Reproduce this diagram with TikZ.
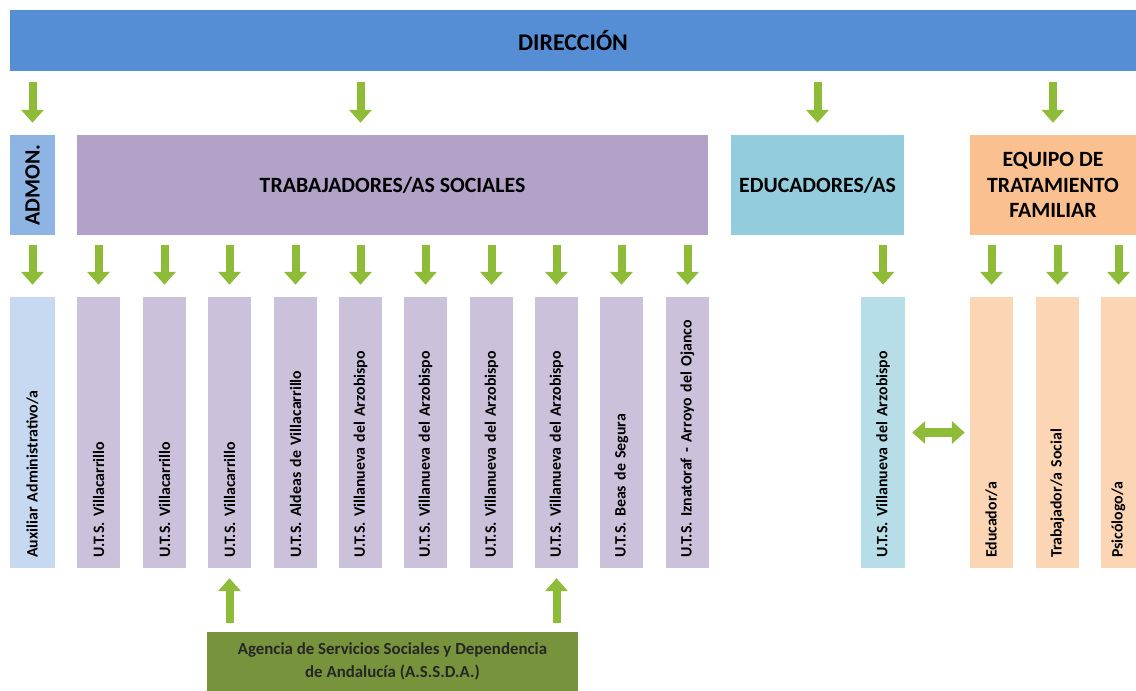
\documentclass[tikz,border=0pt]{standalone}
\usepackage{fontspec}
\setmainfont{Carlito}
\usetikzlibrary{arrows.meta}

\definecolor{azuldir}{HTML}{558ED5}
\definecolor{azuladm}{HTML}{8EB4E3}
\definecolor{azulaux}{HTML}{C6D9F1}
\definecolor{lila}{HTML}{B3A2C7}
\definecolor{lilaclaro}{HTML}{CCC1DA}
\definecolor{turquesa}{HTML}{93CDDD}
\definecolor{turquesaclaro}{HTML}{B7DEE8}
\definecolor{naranja}{HTML}{FAC090}
\definecolor{naranjaclaro}{HTML}{FCD5B5}
\definecolor{verdeagencia}{HTML}{77933C}
\definecolor{verdeflecha}{HTML}{8FBC38}

\begin{document}
\begin{tikzpicture}[
  box/.style={inner sep=0pt, align=center, text=black, font=\bfseries\fontsize{15.5}{18}\selectfont},
  col/.style={rotate=90, minimum width=6.775cm, minimum height=1.075cm, text width=6.275cm,
    inner xsep=0.25cm, inner ysep=0pt, align=left, text=black,
    font=\frenchspacing\bfseries\fontsize{11.3}{13}\selectfont},
  flecha/.style={line width=0.2cm, draw=verdeflecha, -{Triangle[width=0.55cm,length=0.32cm]},
    shorten <=0.275cm, shorten >=0.3cm},
  dobleflecha/.style={line width=0.22cm, draw=verdeflecha,
    {Triangle[width=0.55cm,length=0.32cm]}-{Triangle[width=0.55cm,length=0.32cm]},
    shorten <=0.175cm, shorten >=0.125cm}]

  \useasboundingbox (0,0) rectangle (28.4,-17.275);

  \node[box, fill=azuldir, minimum width=28.15cm, minimum height=1.525cm,
    font=\bfseries\fontsize{17}{20}\selectfont] (dir) at (14.325,-1.0125) {DIRECCIÓN};

  \node[box, fill=azuladm, rotate=90, minimum width=2.5cm, minimum height=1.125cm] (admon) at (0.8125,-4.625) {ADMON.};
  \node[box, fill=lila, minimum width=15.775cm, minimum height=2.5cm] (trab) at (9.8125,-4.625) {TRABAJADORES/AS SOCIALES};
  \node[box, fill=turquesa, minimum width=4.325cm, minimum height=2.5cm] (educ) at (20.4375,-4.625) {EDUCADORES/AS};
  \node[box, fill=naranja, minimum width=4.15cm, minimum height=2.5cm] (equipo) at (26.325,-4.625) {EQUIPO DE\\TRATAMIENTO\\FAMILIAR};

  \node[col, fill=azulaux, minimum height=1.125cm] (aux) at (0.8125,-10.8125) {Auxiliar Administrativo/a};
  \node[col, fill=lilaclaro] (u1) at (2.4625,-10.8125) {U.T.S. Villacarrillo};
  \node[col, fill=lilaclaro] (u2) at (4.1125,-10.8125) {U.T.S. Villacarrillo};
  \node[col, fill=lilaclaro] (u3) at (5.7375,-10.8125) {U.T.S. Villacarrillo};
  \node[col, fill=lilaclaro] (u4) at (7.3875,-10.8125) {U.T.S. Aldeas de Villacarrillo};
  \node[col, fill=lilaclaro] (u5) at (9.0125,-10.8125) {U.T.S. Villanueva del Arzobispo};
  \node[col, fill=lilaclaro] (u6) at (10.6375,-10.8125) {U.T.S. Villanueva del Arzobispo};
  \node[col, fill=lilaclaro] (u7) at (12.2875,-10.8125) {U.T.S. Villanueva del Arzobispo};
  \node[col, fill=lilaclaro] (u8) at (13.9125,-10.8125) {U.T.S. Villanueva del Arzobispo};
  \node[col, fill=lilaclaro] (u9) at (15.5375,-10.8125) {U.T.S. Beas de Segura};
  \node[col, fill=lilaclaro] (u10) at (17.1875,-10.8125) {U.T.S. Iznatoraf - Arroyo del Ojanco};

  \node[col, fill=turquesaclaro, minimum height=1.1cm] (ev) at (22.075,-10.8125) {U.T.S. Villanueva del Arzobispo};

  \node[col, fill=naranjaclaro] (e1) at (24.7875,-10.8125) {Educador/a};
  \node[col, fill=naranjaclaro] (e2) at (26.4375,-10.8125) {Trabajador/a Social};
  \node[col, fill=naranjaclaro, minimum height=0.875cm] (e3) at (27.9625,-10.8125) {Psicólogo/a};

  \node[fill=verdeagencia, minimum width=9.275cm, minimum height=1.475cm, align=center, text=black!85,
    font=\frenchspacing\bfseries\fontsize{12}{16}\selectfont] (assda) at (9.8125,-16.5375)
    {Agencia de Servicios Sociales y Dependencia\\de Andalucía (A.S.S.D.A.)};

  \draw[flecha] (dir.south -| admon.east) -- (admon.east);
  \draw[flecha] (dir.south -| u5.east) -- (trab.north -| u5.east);
  \draw[flecha] (dir.south -| educ.north) -- (educ.north);
  \draw[flecha] (dir.south -| equipo.north) -- (equipo.north);

  \draw[flecha, shorten <=0.25cm] (admon.west) -- (aux.east);
  \draw[flecha, shorten <=0.25cm] (trab.south -| u1.east) -- (u1.east);
  \draw[flecha, shorten <=0.25cm] (trab.south -| u2.east) -- (u2.east);
  \draw[flecha, shorten <=0.25cm] (trab.south -| u3.east) -- (u3.east);
  \draw[flecha, shorten <=0.25cm] (trab.south -| u4.east) -- (u4.east);
  \draw[flecha, shorten <=0.25cm] (trab.south -| u5.east) -- (u5.east);
  \draw[flecha, shorten <=0.25cm] (trab.south -| u6.east) -- (u6.east);
  \draw[flecha, shorten <=0.25cm] (trab.south -| u7.east) -- (u7.east);
  \draw[flecha, shorten <=0.25cm] (trab.south -| u8.east) -- (u8.east);
  \draw[flecha, shorten <=0.25cm] (trab.south -| u9.east) -- (u9.east);
  \draw[flecha, shorten <=0.25cm] (trab.south -| u10.east) -- (u10.east);
  \draw[flecha, shorten <=0.25cm] (educ.south -| ev.east) -- (ev.east);
  \draw[flecha, shorten <=0.25cm] (equipo.south -| e1.east) -- (e1.east);
  \draw[flecha, shorten <=0.25cm] (equipo.south -| e2.east) -- (e2.east);
  \draw[flecha, shorten <=0.25cm] (equipo.south -| e3.east) -- (e3.east);

  \draw[flecha, shorten <=0.225cm, shorten >=0.25cm] (assda.north -| u3.west) -- (u3.west);
  \draw[flecha, shorten <=0.225cm, shorten >=0.25cm] (assda.north -| u8.west) -- (u8.west);

  \draw[dobleflecha] (ev.south) -- (e1.north);
\end{tikzpicture}
\end{document}
